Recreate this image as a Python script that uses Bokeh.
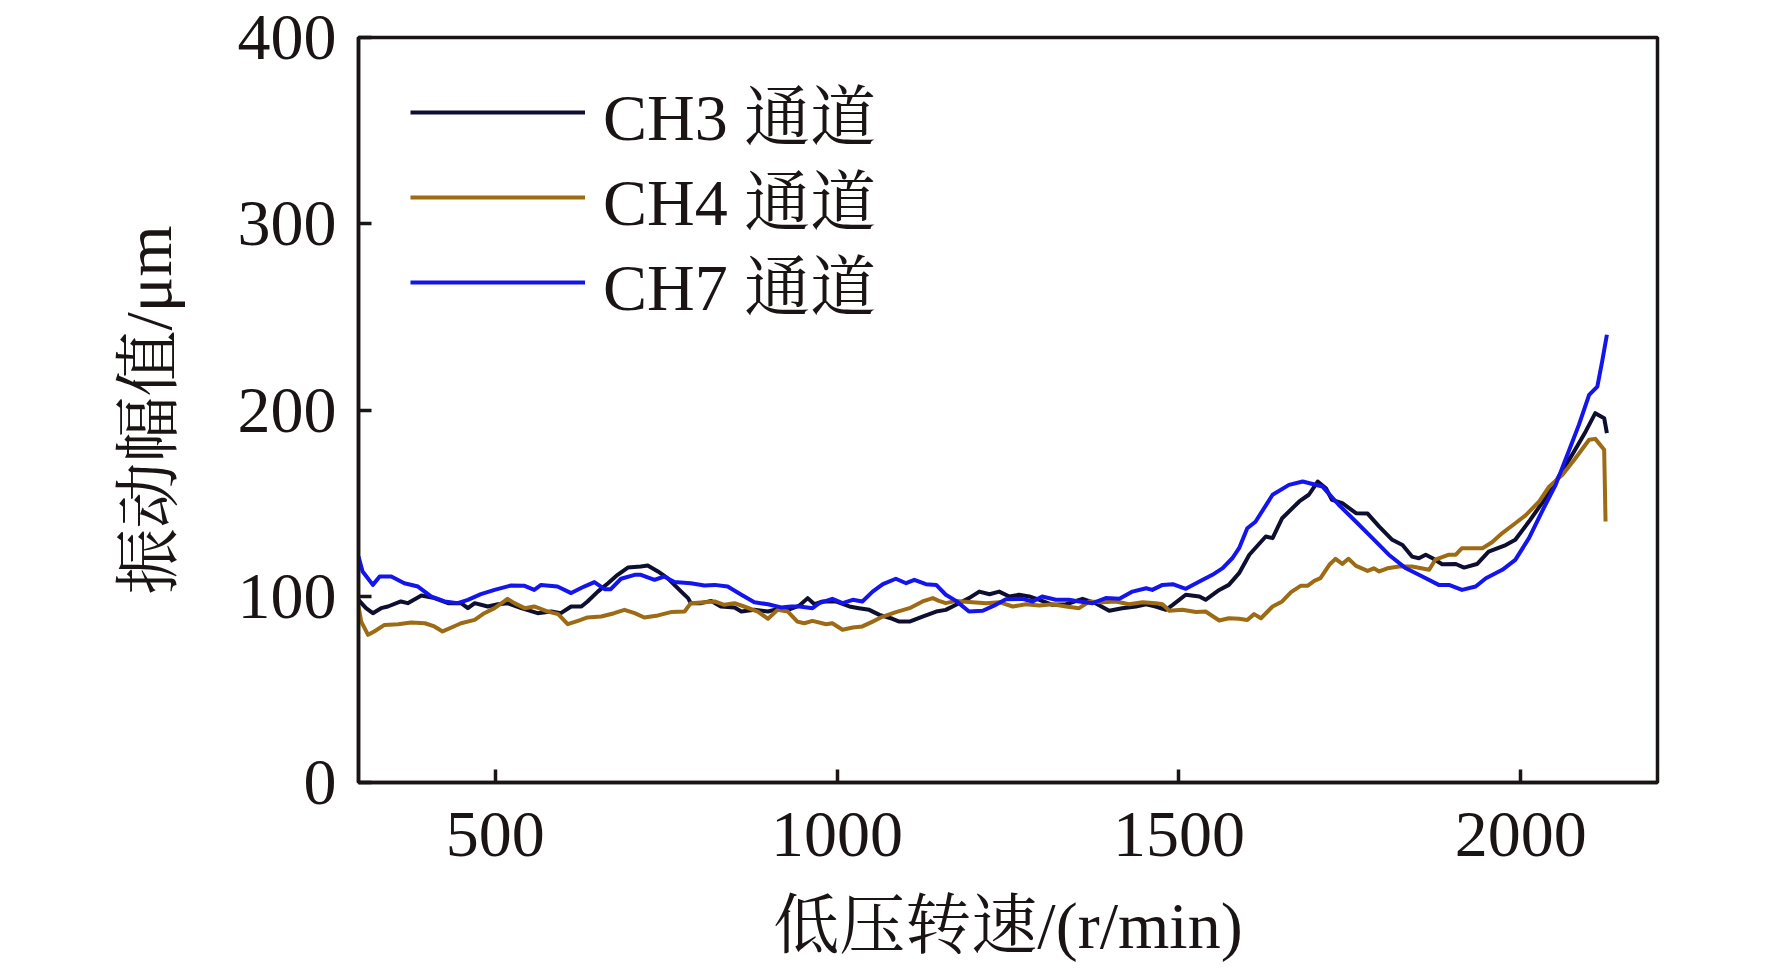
from bokeh.plotting import figure
from bokeh.models import Range1d, Legend, LegendItem, FixedTicker
from bokeh.embed import file_html
from bokeh.resources import INLINE

# CH3
ch3_x = [300, 311, 321, 333, 343, 362, 372, 392, 411, 431, 450, 460, 470, 489, 504, 518, 538, 562, 582, 596,
         611, 626, 635, 650, 665, 679, 694, 713, 723, 738, 752, 772, 782, 786, 801, 816, 830, 850, 860, 879,
         899, 908, 928, 945, 957, 967, 979, 998, 1018, 1032, 1047, 1062, 1081, 1091, 1106, 1125, 1145, 1159,
         1174, 1193, 1208, 1223, 1237, 1252, 1266, 1281, 1296, 1315, 1335, 1359, 1378, 1398, 1417, 1437, 1452,
         1466, 1481, 1491, 1510, 1530, 1539, 1559, 1573, 1588, 1603, 1627, 1637, 1651, 1676, 1690, 1703, 1715,
         1724, 1739, 1759, 1776, 1793, 1812, 1827, 1841, 1851, 1861, 1871, 1885, 1905, 1917, 1936, 1953, 1978,
         1992, 2012, 2031, 2051, 2075, 2095, 2109, 2122, 2126]
ch3_y = [98, 93.6, 90.9, 93.6, 94.5, 97.2, 96.3, 100.4, 99, 96.3, 96.3, 93.6, 96.3, 94.5, 95.7, 96.3, 93.6, 90.9, 91.8, 90.9,
         94.5, 94.5, 97.2, 102.5, 107, 111.5, 115.4, 116, 116.5, 113.3, 109.7, 102.5, 99, 96.3, 96.3, 97.5, 94.5, 94, 91.8, 92.7,
         91.8, 92.7, 92.7, 95, 99, 95.7, 97.2, 97.2, 94.5, 93.6, 92.7, 90, 87.9, 86.4, 86.4, 89.1, 91.8, 92.7,
         95.4, 99, 102.5, 101.1, 102.5, 99.9, 100.8, 99.9, 98.1, 95.4, 95.7, 98.6, 96.3, 92.2, 93.6, 94.5, 95.7,
         94.5, 92.7, 95.4, 100.8, 99.9, 98.1, 103.4, 106.1, 112.4, 122.3, 132.1, 131.2, 141.9, 150.9, 154.5, 161.6, 158,
         151.7, 150, 144.6, 144.4, 137.4, 130.3, 127.5, 121.3, 120.4, 122.3, 120.4, 117.2, 117.3, 115.4, 117.3, 124, 127.5,
         130.3, 140.1, 150, 161.6, 175.9, 188.5, 198.3, 195.6, 187.6]

# CH4
ch4_x = [300, 304, 314, 323, 338, 358, 377, 397, 411, 423, 436, 450, 470, 484, 499, 514, 518, 528, 543, 557,
         577, 592, 606, 621, 635, 655, 674, 689, 704, 718, 738, 757, 777, 786, 806, 821, 835, 850, 864, 884,
         899, 913, 928, 942, 952, 964, 984, 993, 1008, 1023, 1037, 1052, 1067, 1086, 1106, 1125, 1140, 1149,
         1159, 1174, 1198, 1218, 1237, 1257, 1276, 1296, 1315, 1335, 1354, 1369, 1388, 1408, 1427, 1447, 1466,
         1476, 1486, 1505, 1525, 1539, 1559, 1573, 1588, 1600, 1610, 1620, 1637, 1651, 1664, 1678, 1688, 1698,
         1707, 1720, 1729, 1739, 1748, 1759, 1776, 1785, 1793, 1805, 1822, 1841, 1866, 1875, 1895, 1905, 1914,
         1944, 1958, 1973, 1992, 2007, 2027, 2041, 2061, 2080, 2100, 2109, 2122, 2124]
ch4_y = [94.5, 86.4, 79.3, 81.1, 84.6, 85, 85.9, 85.5, 83.8, 81.1, 83.2, 85.5, 87.3, 90.9, 93.6, 97.5, 98.6, 96.3, 93.6, 94.5,
         91.8, 90.4, 85, 86.8, 88.6, 89.1, 90.9, 92.7, 90.9, 88.6, 89.7, 91.5, 91.8, 96.3, 96.8, 97.2, 95.4, 96.3, 94.5, 91.8,
         87.9, 92.7, 91.8, 86.4, 85.5, 86.8, 85, 85.5, 82, 83.2, 83.8, 86.4, 89.1, 91.5, 93.6, 97.2, 99, 97.5,
         96.3, 97.5, 96.8, 96.3, 96.8, 94.5, 95.7, 95, 95.7, 94.5, 93.6, 97.2, 96.8, 97.2, 95.7, 96.8, 96.3,
         95.7, 92.2, 92.7, 91.5, 91.8, 87, 88.2, 87.9, 87.3, 90.4, 88.2, 94.5, 97.2, 102.2, 105.6, 105.6, 108.3,
         109.7, 116.9, 120.1, 117.4, 120.1, 116.3, 113.6, 115, 113.3, 115, 116, 116, 114.2, 119.6, 122.3, 122.3, 125.8,
         125.8, 129, 133.9, 139.2, 143.4, 150.9, 158.6, 165.2, 174.1, 184, 184.5, 178.6, 140.1]

# CH7
ch7_x = [300, 306, 321, 331, 348, 367, 387, 406, 426, 445, 460, 479, 499, 523, 543, 557, 567, 591, 611, 630,
         645, 660, 669, 684, 704, 713, 733, 747, 762, 786, 806, 821, 840, 860, 879, 899, 918, 933, 945, 964,
         974, 993, 1008, 1023, 1037, 1052, 1067, 1086, 1101, 1113, 1130, 1145, 1159, 1174, 1193, 1213, 1232,
         1247, 1271, 1286, 1300, 1320, 1339, 1354, 1374, 1393, 1413, 1432, 1452, 1461, 1476, 1491, 1510, 1530,
         1549, 1564, 1578, 1588, 1600, 1612, 1637, 1661, 1681, 1710, 1734, 1759, 1783, 1807, 1832, 1856, 1880,
         1895, 1914, 1934, 1949, 1973, 1992, 2012, 2031, 2051, 2070, 2085, 2100, 2112, 2119, 2126]
ch7_y = [121.3, 113.3, 106.1, 110.6, 110.6, 107, 105.2, 99.9, 97.2, 96.3, 98.1, 101.1, 103.4, 105.8, 105.6, 103.4, 106.1, 105.2, 101.7, 105.2,
         107.6, 103.8, 103.8, 109.4, 111.5, 111.5, 108.8, 110.6, 107.6, 107, 105.8, 106.1, 105.2, 100.8, 96.8, 95.7, 94, 94.5, 94.5, 93.6,
         96.3, 98.6, 96.3, 98.1, 97.2, 102.5, 106.5, 109.4, 107, 108.8, 106.5, 106.1, 100.8, 97.5, 91.8, 92.2, 95.4,
         98.4, 98.6, 97.2, 99.9, 98.1, 98.1, 97.2, 96.3, 99, 98.6, 102.5, 104.3, 103.4, 106.1, 106.5, 104, 107.9,
         111.5, 115.1, 120.4, 125.8, 136.5, 140, 154.5, 159.8, 161.6, 158.9, 149, 140, 131.2, 122.3, 115, 110.6, 106.1,
         106.1, 103.4, 105.2, 109.7, 114.2, 119.5, 131.2, 145.5, 159.8, 177.7, 192, 208.1, 212.6, 226, 240.4]

series_names = ["CH3 通道", "CH4 通道", "CH7 通道"]
series_colors = ["#0e0e30", "#9c6b14", "#1414ee"]
x_ticks = [500, 1000, 1500, 2000]
y_ticks = [0, 100, 200, 300, 400]
x_title = "低压转速/(r/min)"
y_title = "振动幅值/μm"

FONT = "Liberation Serif, Noto Serif CJK SC, Noto Sans CJK SC, serif"
FS = "66px"

p = figure(width=1756, height=964, output_backend="svg", toolbar_location=None,
           x_range=Range1d(300, 2200), y_range=Range1d(0, 400),
           min_border_left=358, min_border_right=99, min_border_top=37, min_border_bottom=170)
p.background_fill_color = "white"
p.border_fill_color = "white"
p.grid.visible = False
p.outline_line_color = "#1a1414"
p.outline_line_width = 3.5

for ax in (p.xaxis[0], p.yaxis[0]):
    ax.axis_line_color = "#1a1414"
    ax.axis_line_width = 3.5
    ax.major_tick_line_color = "#1a1414"
    ax.major_tick_line_width = 3.5
    ax.major_tick_in = 13
    ax.major_tick_out = 0
    ax.minor_tick_line_color = None
    ax.major_label_text_font = FONT
    ax.major_label_text_font_size = FS
    ax.major_label_text_color = "#1a1414"
    ax.axis_label_text_font = FONT
    ax.axis_label_text_font_size = FS
    ax.axis_label_text_font_style = "normal"
    ax.axis_label_text_color = "#1a1414"

p.xaxis.ticker = FixedTicker(ticks=x_ticks)
p.yaxis.ticker = FixedTicker(ticks=y_ticks)
p.xaxis.axis_label = x_title
p.yaxis.axis_label = y_title
p.xaxis.major_label_standoff = 30
p.yaxis.major_label_standoff = 22
p.xaxis.axis_label_standoff = 30
p.yaxis.axis_label_standoff = 50

renderers = []
for xs, ys, c in ((ch3_x, ch3_y, series_colors[0]), (ch4_x, ch4_y, series_colors[1]), (ch7_x, ch7_y, series_colors[2])):
    r = p.line(xs, ys, line_color=c, line_width=4, line_join="round")
    renderers.append(r)

legend_y = [623, 538, 453]
for n, r, ly in zip(series_names, renderers, legend_y):
    lg = Legend(items=[LegendItem(label=n, renderers=[r])], location=(52, ly), orientation="vertical")
    lg.background_fill_alpha = 0
    lg.border_line_color = None
    lg.label_text_font = FONT
    lg.label_text_font_size = FS
    lg.label_text_color = "#1a1414"
    lg.glyph_width = 175
    lg.glyph_height = 60
    lg.label_standoff = 18
    lg.spacing = 0
    lg.padding = 0
    lg.margin = 0
    p.add_layout(lg, "center")

open("out.html", "w").write(file_html(p, INLINE))
